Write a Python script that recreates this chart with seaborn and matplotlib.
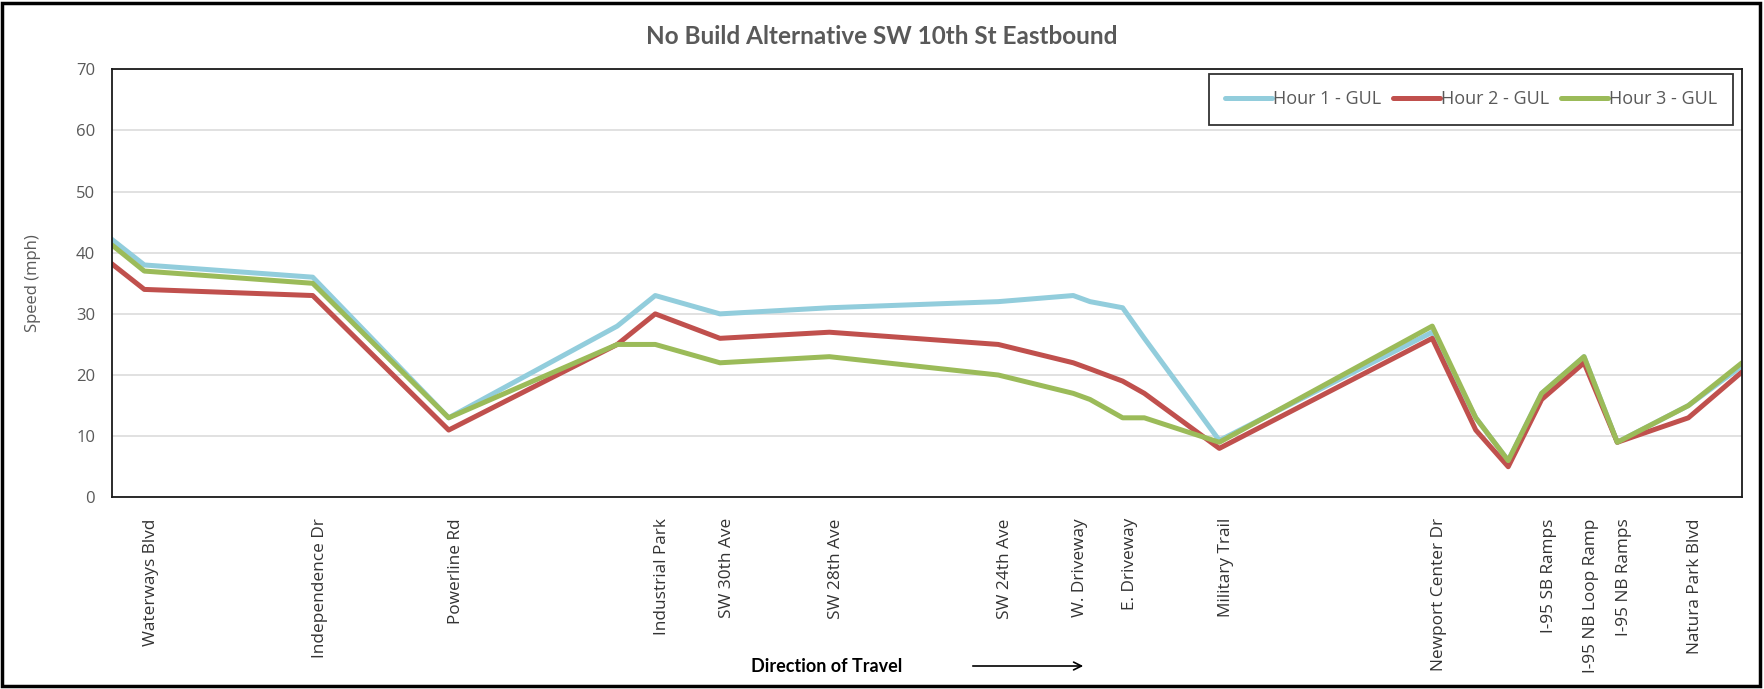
import matplotlib
matplotlib.use("Agg")
import matplotlib.pyplot as plt
from matplotlib.patches import Rectangle, FancyArrowPatch
from matplotlib.transforms import ScaledTranslation
import seaborn as sns
import pandas as pd

# Position along the corridor (percent of the plotted length) for every speed record
station = [0.0, 2.0, 12.33, 20.67, 31.01, 33.34, 37.31, 44.02, 54.38, 58.98, 60.01,
           62.01, 63.34, 67.94, 81.00, 83.67, 85.66, 87.71, 90.31, 92.35, 96.71, 100.0]

# Speeds (mph) by hour
hour1 = [42.2, 38, 36, 13, 28, 33, 30, 31, 32, 33, 32, 31, 26, 9.3, 27, 13, 6, 17, 23, 9, 15, 21.5]
hour2 = [38.2, 34, 33, 11, 25, 30, 26, 27, 25, 22, 21, 19, 17, 8, 26, 11, 5, 16, 22, 9, 13, 20.5]
hour3 = [41.3, 37, 35, 13, 25, 25, 22, 23, 20, 17, 16, 13, 13, 9, 28, 13, 6, 17, 23, 9, 15, 22]

series_names = ["Hour 1 - GUL", "Hour 2 - GUL", "Hour 3 - GUL"]
series_colors = ["#92CDDC", "#C0504D", "#9BBB59"]

# Named cross streets and their positions
cross_streets = ["Waterways Blvd", "Independence Dr", "Powerline Rd", "Industrial Park",
                 "SW 30th Ave", "SW 28th Ave", "SW 24th Ave", "W. Driveway", "E. Driveway",
                 "Military Trail", "Newport Center Dr", "I-95 SB Ramps", "I-95 NB Loop Ramp",
                 "I-95 NB Ramps", "Natura Park Blvd"]
cross_station = [2.0, 12.33, 20.67, 33.34, 37.31, 44.02, 54.38, 58.98, 62.01,
                 67.94, 81.00, 87.71, 90.31, 92.35, 96.71]

y_ticks = [0, 10, 20, 30, 40, 50, 60, 70]

df = pd.concat([
    pd.DataFrame({"station": station, "speed": vals, "series": name})
    for name, vals in zip(series_names, [hour1, hour2, hour3])
], ignore_index=True)

sns.set_theme(style="white")
plt.rcParams["font.family"] = ["Open Sans", "DejaVu Sans"]
BOLD = ["Lato", "DejaVu Sans"]

W, H = 1764, 689
fig = plt.figure(figsize=(W / 100, H / 100), dpi=100)
left, right, top, bottom = 111.7, 1742.0, 69.3, 497.3
ax = fig.add_axes([left / W, 1 - bottom / H, (right - left) / W, (bottom - top) / H])

sns.lineplot(data=df, x="station", y="speed", hue="series", hue_order=series_names,
             palette=series_colors, linewidth=3.6, estimator=None, sort=False, ax=ax)

ax.set_xlim(0, 100)
ax.set_ylim(0, 70)
ax.set_yticks(y_ticks)
ax.set_yticklabels([str(v) for v in y_ticks], fontsize=12, color="#595959")
ax.set_xticks(cross_station)
ax.set_xticklabels(cross_streets, rotation=90, ha="center", va="top",
                   fontsize=12.4, color="#333333")
ax.tick_params(axis="x", length=0, pad=15)
ax.tick_params(axis="y", length=0, pad=12)
# nudge the rotated street names a little to the right of their stations
shift = ScaledTranslation(0.07, 0, fig.dpi_scale_trans)
for tick in ax.xaxis.get_major_ticks():
    tick.label1.set_transform(tick.label1.get_transform() + shift)
ax.grid(axis="y", color="#d9d9d9", linewidth=1.1)
ax.grid(axis="x", visible=False)
ax.set_axisbelow(True)
for sp in ax.spines.values():
    sp.set_visible(True)
    sp.set_color("#1a1a1a")
    sp.set_linewidth(1.3)

ax.set_xlabel("")
ax.set_ylabel("Speed (mph)", fontsize=12, color="#595959")
ax.yaxis.set_label_coords(-(left - 41) / (right - left), 0.5)

handles, labels = ax.get_legend_handles_labels()
for h in handles:
    h.set_linewidth(3.6)
leg = ax.legend(handles, labels, loc="upper right",
                bbox_to_anchor=((1733 - left) / (right - left), (bottom - 74) / (bottom - top)),
                borderaxespad=0, ncol=3, frameon=True, fancybox=False,
                handlelength=2.6, handletextpad=0.05, columnspacing=0.65, borderpad=0.9,
                prop={"size": 13})
leg.get_frame().set_edgecolor("black")
leg.get_frame().set_linewidth(1.3)
for t in leg.get_texts():
    t.set_color("#595959")

fig.text(0.5, 1 - 36 / H, "No Build Alternative SW 10th St Eastbound",
         ha="center", va="center", fontsize=17.5, fontweight="bold", color="#595959",
         family=BOLD)

fig.text(827 / W, 1 - 666 / H, "Direction of Travel", ha="center", va="center",
         fontsize=13, fontweight="bold", color="black", family=BOLD)
fig.add_artist(FancyArrowPatch(
    (970 / W, 1 - 666 / H), (1086 / W, 1 - 666 / H), transform=fig.transFigure,
    arrowstyle="->", mutation_scale=14, linewidth=1.2, color="black"))

fig.add_artist(Rectangle((2 / W, 3 / H), 1758 / W, 683 / H, transform=fig.transFigure,
                         fill=False, edgecolor="black", linewidth=2.5))

fig.savefig("out.png", dpi=100, facecolor="white")
